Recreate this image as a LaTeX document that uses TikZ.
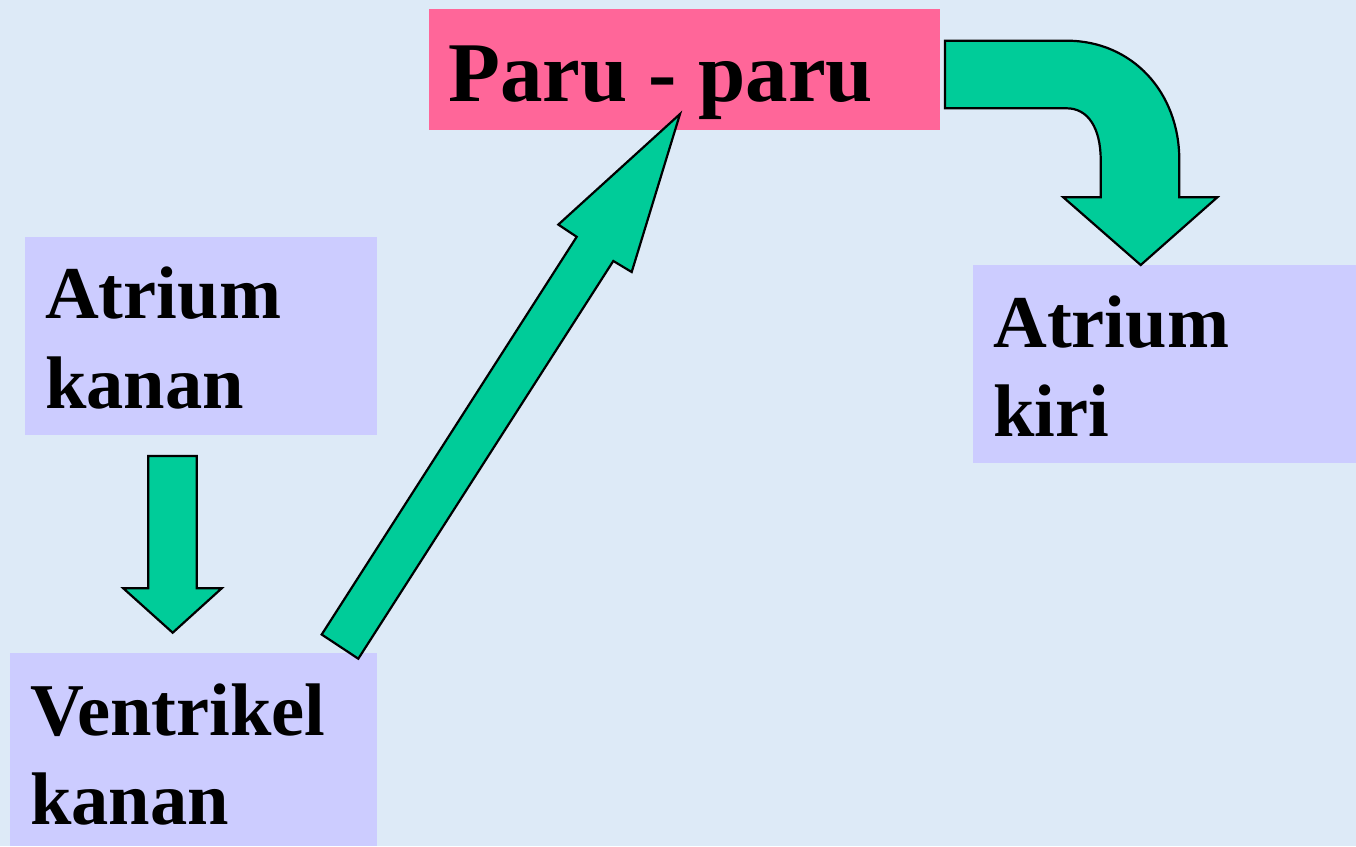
\documentclass[tikz,border=0pt]{standalone}
\usepackage{fontspec}
\setmainfont{Liberation Serif}
\definecolor{bgblue}{HTML}{DDEAF7}
\definecolor{arrowgreen}{HTML}{00CC99}
\definecolor{parupink}{HTML}{FF6699}
\definecolor{boxlav}{HTML}{CCCCFF}
\begin{document}
\begin{tikzpicture}[x=1pt,y=-1pt,
  box/.style={draw=none,inner sep=0pt,anchor=north west},
  lbl/.style={anchor=base west,inner sep=0pt,font=\fontsize{74.5}{89}\selectfont\bfseries},
  plbl/.style={anchor=base west,inner sep=0pt,font=\fontsize{85}{100}\selectfont\bfseries},
  blockarrow/.style={fill=arrowgreen,draw=black,line width=2.2pt,line join=miter}]
\useasboundingbox (0,0) rectangle (1356,846);
\fill[bgblue] (0,0) rectangle (1356,846);
% boxes
\node[box,fill=parupink,minimum width=511pt,minimum height=121pt] (paru) at (429,9) {};
\node[box,fill=boxlav,minimum width=352pt,minimum height=198pt] (ak) at (25,237) {};
\node[box,fill=boxlav,minimum width=367pt,minimum height=193pt] (vk) at (10,653) {};
\node[box,fill=boxlav,minimum width=383pt,minimum height=198pt] (aki) at (973,265) {};
% labels
\node[plbl] (tparu) at (448,101) {Paru - paru};
\node[lbl] (tak1) at (45,318) {Atrium};
\node[lbl] (tak2) at (45,408) {kanan};
\node[lbl] (tvk1) at (30,735) {Ventrikel};
\node[lbl] (tvk2) at (30,824) {kanan};
\node[lbl] (taki1) at (993,347) {Atrium};
\node[lbl] (taki2) at (993,436) {kiri};
% arrow: atrium kanan -> ventrikel kanan
\draw[blockarrow] (148.3,456) -- (196.7,456) -- (196.7,588.3) -- (221.7,588.3)
  -- (172.7,632.7) -- (123.3,588.3) -- (148.3,588.3) -- cycle;
% arrow: ventrikel kanan -> paru
\draw[blockarrow] (321.7,634.5) -- (576.7,236.8) -- (558.3,224.6) -- (680,114)
  -- (631.7,272) -- (613.3,261) -- (358.3,658.7) -- cycle;
% arrow: paru -> atrium kiri
\draw[blockarrow] (945,40.7) -- (1066.7,40.7)
  .. controls (1132,40.7) and (1179.3,92) .. (1179.3,160)
  -- (1179.3,197.3) -- (1217.3,197.3) -- (1140.7,265) -- (1063.3,197.3)
  -- (1100.7,197.3) -- (1100.7,160)
  .. controls (1100.7,128) and (1088,108.3) .. (1066.7,108.3)
  -- (945,108.3) -- cycle;
\end{tikzpicture}
\end{document}
